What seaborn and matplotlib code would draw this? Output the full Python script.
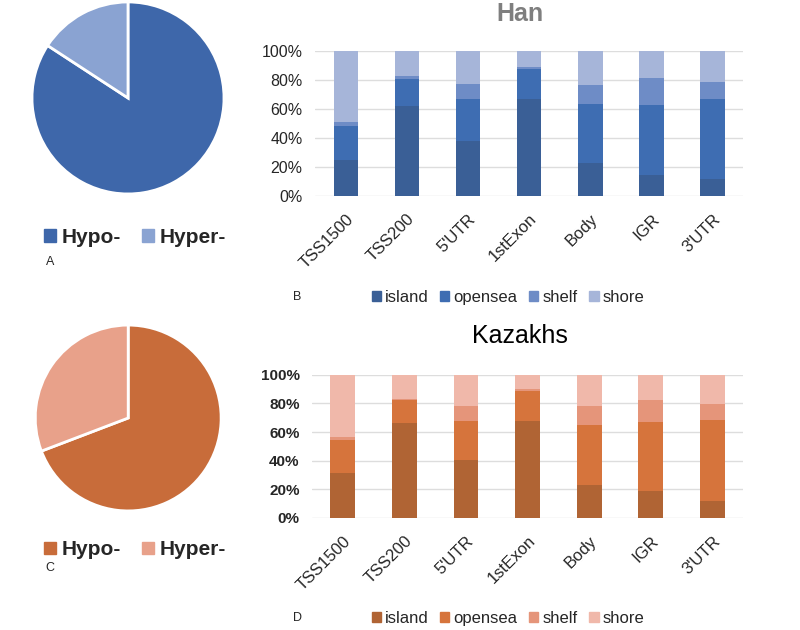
import numpy as np
import pandas as pd
import seaborn as sns
import matplotlib.pyplot as plt
from matplotlib.patches import Patch

sns.set_style('white')
plt.rcParams['font.family'] = ['Liberation Sans', 'DejaVu Sans']

regions = ['TSS1500', 'TSS200', "5'UTR", '1stExon', 'Body', 'IGR', "3'UTR"]
layers = ['island', 'opensea', 'shelf', 'shore']

# percentages per region (island, opensea, shelf, shore)
han_island = [24.8, 62.0, 38.0, 67.0, 22.5, 14.5, 11.7]
han_opensea = [23.7, 18.7, 28.9, 20.6, 41.2, 48.5, 55.2]
han_shelf = [2.5, 2.1, 10.3, 1.6, 13.1, 18.1, 11.5]
han_shore = [49.0, 17.2, 22.8, 10.8, 23.2, 18.9, 21.6]

kaz_island = [31.4, 66.0, 40.7, 67.9, 23.0, 19.0, 12.1]
kaz_opensea = [22.8, 16.3, 27.2, 20.9, 41.7, 48.2, 56.5]
kaz_shelf = [2.3, 0.7, 10.0, 1.2, 13.2, 15.4, 11.2]
kaz_shore = [43.5, 17.0, 22.1, 10.0, 22.1, 17.4, 20.2]

pie_labels = ['Hypo-', 'Hyper-']
han_pie = [84.2, 15.8]
kaz_pie = [69.2, 30.8]

han_colors = ['#3a5f96', '#3e6db2', '#6e8cc6', '#a6b5d9']
kaz_colors = ['#b06434', '#d6743c', '#e5957a', '#f0b8aa']
han_pie_colors = ['#3e67aa', '#8aa3d2']
kaz_pie_colors = ['#c86c3a', '#e8a18a']

fig = plt.figure(figsize=(8, 6.3), dpi=100)


def draw_pie(rect, values, colors, legend_y, letter, letter_y):
    ax = fig.add_axes(rect)
    ax.pie(values, colors=colors, startangle=90, counterclock=False,
           wedgeprops=dict(edgecolor='white', linewidth=2))
    ax.set_xlim(-1.0, 1.0)
    ax.set_ylim(-1.0, 1.0)
    ax.set_aspect('equal')
    handles = [Patch(color=c, label=l) for c, l in zip(colors, pie_labels)]
    fig.legend(handles=handles, loc='center', bbox_to_anchor=(0.169, legend_y),
               ncol=2, frameon=False, handlelength=0.55, handleheight=0.55,
               handletextpad=0.3, columnspacing=1.0,
               prop=dict(size=15, weight='bold'))
    fig.text(0.057, letter_y, letter, fontsize=9, va='center')


def draw_bars(rect, data, colors, title, title_y, title_kw, tick_kw, legend_y, letter, letter_y):
    ax = fig.add_axes(rect)
    df = pd.DataFrame(data, index=layers, columns=regions).T
    cum = df.cumsum(axis=1)
    # stacked bars: draw the cumulative totals from the top layer down
    for layer, c in reversed(list(zip(layers, colors))):
        sns.barplot(x=cum.index, y=cum[layer], color=c, width=0.4,
                    saturation=1, linewidth=0, ax=ax, zorder=3)
    ax.set_ylim(0, 100)
    ax.set_xlim(-0.5, 6.5)
    ax.set_yticks(range(0, 101, 20))
    ax.set_yticklabels([f'{v}%' for v in range(0, 101, 20)], **tick_kw)
    ax.yaxis.grid(True, color='#dddddd', linewidth=1, zorder=0)
    ax.set_axisbelow(True)
    ax.set_xlabel('')
    ax.set_ylabel('')
    for s in ax.spines.values():
        s.set_visible(False)
    ax.tick_params(axis='y', length=0, pad=9)
    ax.tick_params(axis='x', length=0, pad=11)
    ax.set_xticks(range(len(regions)))
    ax.set_xticklabels(regions, rotation=45, ha='right', rotation_mode='anchor', fontsize=12)
    fig.text(0.65, title_y, title, ha='center', va='baseline', **title_kw)
    handles = [Patch(color=c, label=l) for c, l in zip(colors, layers)]
    fig.legend(handles=handles, loc='center', bbox_to_anchor=(0.635, legend_y),
               ncol=4, frameon=False, handlelength=0.55, handleheight=0.55,
               handletextpad=0.25, columnspacing=0.7, fontsize=12)
    fig.text(0.366, letter_y, letter, fontsize=9, va='center')


draw_pie([0.04, 0.692, 0.24, 0.305], han_pie, han_pie_colors, 0.623, 'A', 0.584)
draw_pie([0.044, 0.189, 0.2325, 0.295], kaz_pie, kaz_pie_colors, 0.127, 'C', 0.098)

draw_bars([0.394, 0.689, 0.535, 0.230],
          [han_island, han_opensea, han_shelf, han_shore], han_colors,
          'Han', 0.966, dict(fontsize=18, fontweight='bold', color='#7f7f7f'),
          dict(fontsize=11.5), 0.528, 'B', 0.528)
draw_bars([0.39, 0.178, 0.539, 0.227],
          [kaz_island, kaz_opensea, kaz_shelf, kaz_shore], kaz_colors,
          'Kazakhs', 0.456, dict(fontsize=18, color='black'),
          dict(fontsize=11, fontweight='bold'), 0.018, 'D', 0.019)

fig.savefig('out.png', dpi=100)
